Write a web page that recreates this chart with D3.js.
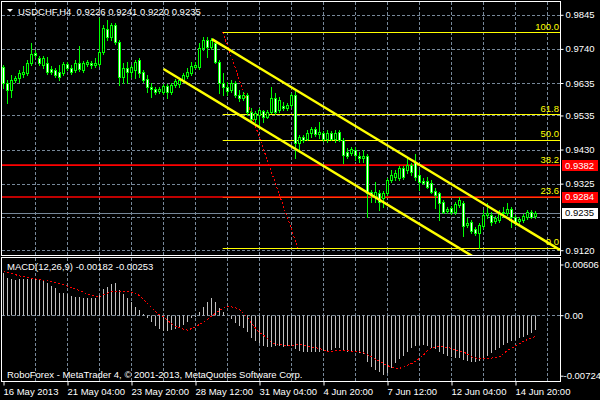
<!DOCTYPE html>
<html>
<head>
<meta charset="utf-8">
<script src="https://cdn.jsdelivr.net/npm/d3@7"></script>
<style>
  body { margin: 0; background: #000; }
  svg { display: block; }
  text { font-family: "Liberation Sans", Arial, sans-serif; font-size: 9.5px; }
</style>
</head>
<body>
<svg id="chart" width="600" height="400"></svg>
<script>
// USDCHF H4 bars, 16 May 2013 12:00 onwards
const opens = [0.9685,0.9636,0.9614,0.9645,0.9651,0.9663,0.9666,0.9697,0.9728,0.9713,
  0.9691,0.9697,0.9679,0.9676,0.9669,0.9666,0.9694,0.9682,0.9676,0.9697,
  0.9676,0.9694,0.9697,0.9691,0.9694,0.9731,0.9802,0.9777,0.9814,0.9762,
  0.9654,0.9682,0.9669,0.9676,0.9706,0.9669,0.9648,0.9623,0.9617,0.9611,
  0.9608,0.9626,0.9608,0.9629,0.9632,0.9645,0.9657,0.9666,0.9685,0.9685,
  0.9743,0.9768,0.9746,0.9759,0.9700,0.9636,0.9623,0.9614,0.9636,0.9599,
  0.9589,0.9599,0.9546,0.9525,0.9537,0.9549,0.9531,0.9546,0.9589,0.9552,
  0.9565,0.9559,0.9568,0.9599,0.9451,0.9469,0.9463,0.9482,0.9494,0.9479,
  0.9482,0.9463,0.9482,0.9463,0.9485,0.9460,0.9423,0.9420,0.9429,0.9411,
  0.9405,0.9411,0.9300,0.9284,0.9297,0.9281,0.9297,0.9337,0.9346,0.9343,
  0.9374,0.9368,0.9383,0.9392,0.9352,0.9334,0.9334,0.9328,0.9303,0.9297,
  0.9269,0.9241,0.9251,0.9238,0.9260,0.9266,0.9198,0.9207,0.9186,0.9174,
  0.9195,0.9229,0.9229,0.9211,0.9214,0.9235,0.9235,0.9247,0.9223,0.9211,
  0.9214,0.9223,0.9238,0.9226];
const highs = [0.9691,0.9645,0.9660,0.9657,0.9676,0.9688,0.9706,0.9759,0.9737,0.9719,
  0.9719,0.9716,0.9688,0.9682,0.9691,0.9700,0.9700,0.9691,0.9706,0.9750,
  0.9703,0.9706,0.9703,0.9713,0.9836,0.9814,0.9830,0.9820,0.9820,0.9768,
  0.9697,0.9700,0.9691,0.9706,0.9713,0.9676,0.9660,0.9636,0.9623,0.9623,
  0.9632,0.9632,0.9636,0.9648,0.9651,0.9666,0.9682,0.9700,0.9700,0.9759,
  0.9777,0.9777,0.9774,0.9768,0.9706,0.9666,0.9639,0.9645,0.9642,0.9614,
  0.9608,0.9605,0.9559,0.9549,0.9559,0.9552,0.9552,0.9623,0.9605,0.9592,
  0.9577,0.9574,0.9605,0.9614,0.9475,0.9475,0.9491,0.9500,0.9500,0.9515,
  0.9488,0.9491,0.9488,0.9491,0.9491,0.9466,0.9435,0.9438,0.9438,0.9423,
  0.9429,0.9417,0.9306,0.9331,0.9306,0.9303,0.9343,0.9368,0.9368,0.9380,
  0.9380,0.9405,0.9389,0.9417,0.9368,0.9343,0.9346,0.9337,0.9312,0.9300,
  0.9275,0.9254,0.9257,0.9269,0.9284,0.9272,0.9220,0.9214,0.9192,0.9204,
  0.9244,0.9266,0.9238,0.9226,0.9244,0.9254,0.9266,0.9254,0.9229,0.9223,
  0.9232,0.9244,0.9244,0.9241];
const lows = [0.9620,0.9574,0.9592,0.9639,0.9639,0.9654,0.9660,0.9691,0.9716,0.9691,
  0.9682,0.9663,0.9663,0.9654,0.9645,0.9660,0.9676,0.9663,0.9669,0.9673,
  0.9669,0.9688,0.9682,0.9685,0.9688,0.9725,0.9768,0.9768,0.9756,0.9629,
  0.9636,0.9636,0.9654,0.9651,0.9654,0.9639,0.9608,0.9592,0.9602,0.9605,
  0.9602,0.9589,0.9602,0.9623,0.9623,0.9639,0.9651,0.9660,0.9682,0.9679,
  0.9737,0.9716,0.9740,0.9697,0.9605,0.9599,0.9599,0.9608,0.9592,0.9580,
  0.9583,0.9537,0.9515,0.9515,0.9506,0.9515,0.9528,0.9543,0.9540,0.9546,
  0.9552,0.9552,0.9562,0.9405,0.9423,0.9454,0.9460,0.9469,0.9472,0.9466,
  0.9457,0.9454,0.9460,0.9454,0.9457,0.9389,0.9405,0.9414,0.9398,0.9392,
  0.9392,0.9223,0.9269,0.9269,0.9244,0.9254,0.9291,0.9331,0.9337,0.9337,
  0.9340,0.9358,0.9352,0.9337,0.9306,0.9325,0.9312,0.9297,0.9251,0.9214,
  0.9235,0.9235,0.9232,0.9232,0.9254,0.9164,0.9192,0.9174,0.9167,0.9127,
  0.9189,0.9220,0.9198,0.9204,0.9207,0.9223,0.9229,0.9192,0.9198,0.9204,
  0.9207,0.9217,0.9220,0.9220];
const closes = [0.9636,0.9614,0.9645,0.9651,0.9666,0.9669,0.9697,0.9725,0.9722,0.9697,
  0.9713,0.9669,0.9669,0.9660,0.9654,0.9694,0.9682,0.9669,0.9697,0.9679,
  0.9697,0.9700,0.9691,0.9697,0.9731,0.9805,0.9777,0.9814,0.9762,0.9654,
  0.9682,0.9669,0.9685,0.9700,0.9666,0.9645,0.9623,0.9617,0.9608,0.9617,
  0.9626,0.9608,0.9629,0.9642,0.9645,0.9660,0.9669,0.9688,0.9691,0.9743,
  0.9768,0.9746,0.9768,0.9700,0.9636,0.9623,0.9611,0.9636,0.9599,0.9589,
  0.9599,0.9546,0.9525,0.9543,0.9552,0.9531,0.9546,0.9589,0.9546,0.9583,
  0.9559,0.9568,0.9599,0.9451,0.9469,0.9460,0.9482,0.9494,0.9479,0.9485,
  0.9463,0.9482,0.9463,0.9482,0.9460,0.9414,0.9411,0.9432,0.9414,0.9405,
  0.9411,0.9297,0.9291,0.9300,0.9269,0.9297,0.9337,0.9352,0.9358,0.9374,
  0.9346,0.9383,0.9361,0.9346,0.9331,0.9328,0.9315,0.9300,0.9291,0.9266,
  0.9238,0.9247,0.9238,0.9263,0.9275,0.9195,0.9204,0.9180,0.9174,0.9198,
  0.9229,0.9235,0.9207,0.9220,0.9235,0.9238,0.9247,0.9223,0.9204,0.9217,
  0.9226,0.9238,0.9223,0.9235];

// MACD(12,26,9): main line (histogram) and signal line
const macdMain = [0.00499,0.00446,0.00427,0.00419,0.00427,0.00427,0.00431,0.00446,0.00446,0.00431,
  0.00419,0.00379,0.00350,0.00327,0.00271,0.00260,0.00248,0.00231,0.00219,0.00212,
  0.00207,0.00200,0.00200,0.00200,0.00239,0.00307,0.00331,0.00371,0.00379,0.00299,
  0.00248,0.00207,0.00159,0.00099,0.00060,0.00008,-0.00032,-0.00080,-0.00128,-0.00167,
  -0.00191,-0.00191,-0.00179,-0.00167,-0.00152,-0.00120,-0.00080,-0.00039,-0.00020,0.00032,
  0.00099,0.00159,0.00200,0.00159,0.00080,0.00032,-0.00008,-0.00048,-0.00099,-0.00128,
  -0.00152,-0.00207,-0.00271,-0.00311,-0.00338,-0.00367,-0.00379,-0.00379,-0.00367,-0.00367,
  -0.00379,-0.00367,-0.00367,-0.00401,-0.00431,-0.00439,-0.00446,-0.00446,-0.00439,-0.00439,
  -0.00431,-0.00431,-0.00419,-0.00398,-0.00391,-0.00419,-0.00439,-0.00439,-0.00446,-0.00458,
  -0.00470,-0.00559,-0.00618,-0.00658,-0.00685,-0.00718,-0.00697,-0.00637,-0.00578,-0.00526,
  -0.00487,-0.00439,-0.00398,-0.00367,-0.00359,-0.00359,-0.00367,-0.00391,-0.00407,-0.00439,
  -0.00470,-0.00487,-0.00499,-0.00511,-0.00511,-0.00538,-0.00550,-0.00566,-0.00566,-0.00550,
  -0.00518,-0.00487,-0.00458,-0.00419,-0.00391,-0.00359,-0.00327,-0.00311,-0.00299,-0.00279,
  -0.00260,-0.00239,-0.00219,-0.00182];
const macdSignal = [0.00520,0.00508,0.00499,0.00484,0.00470,0.00460,0.00451,0.00443,0.00433,0.00425,
  0.00419,0.00410,0.00401,0.00389,0.00377,0.00365,0.00347,0.00329,0.00311,0.00295,
  0.00275,0.00254,0.00236,0.00224,0.00219,0.00242,0.00263,0.00279,0.00283,0.00287,
  0.00287,0.00281,0.00271,0.00257,0.00236,0.00185,0.00138,0.00090,0.00042,0.00006,
  -0.00020,-0.00060,-0.00102,-0.00132,-0.00153,-0.00167,-0.00179,-0.00161,-0.00138,-0.00111,
  -0.00080,-0.00048,-0.00012,0.00024,0.00060,0.00084,0.00099,0.00098,0.00087,0.00066,
  0.00020,-0.00028,-0.00099,-0.00155,-0.00209,-0.00239,-0.00275,-0.00327,-0.00341,-0.00353,
  -0.00359,-0.00359,-0.00359,-0.00356,-0.00350,-0.00359,-0.00367,-0.00379,-0.00389,-0.00398,
  -0.00413,-0.00431,-0.00431,-0.00427,-0.00427,-0.00427,-0.00427,-0.00431,-0.00434,-0.00439,
  -0.00451,-0.00472,-0.00499,-0.00526,-0.00550,-0.00580,-0.00604,-0.00622,-0.00637,-0.00634,
  -0.00626,-0.00598,-0.00580,-0.00550,-0.00514,-0.00478,-0.00425,-0.00395,-0.00379,-0.00377,
  -0.00379,-0.00386,-0.00398,-0.00413,-0.00428,-0.00439,-0.00466,-0.00499,-0.00512,-0.00518,
  -0.00518,-0.00518,-0.00514,-0.00506,-0.00499,-0.00460,-0.00419,-0.00395,-0.00367,-0.00341,
  -0.00311,-0.00293,-0.00275,-0.00253];

const timeBars = [0, 16, 32, 48, 64, 80, 96, 112, 128];
const timeLabels = ['16 May 2013', '21 May 04:00', '23 May 20:00', '28 May 12:00', '31 May 04:00',
  '4 Jun 20:00', '7 Jun 12:00', '12 Jun 04:00', '14 Jun 20:00'];
const gridBars = [8, 16, 24, 32, 40, 48, 56, 64, 72, 80, 88, 96, 104, 112, 120, 128, 136];
const priceGrid = [0.9845, 0.9740, 0.9635, 0.9535, 0.9430, 0.9325, 0.9222, 0.9120];
const priceTickLabels = [0.9845, 0.9740, 0.9635, 0.9535, 0.9430, 0.9325, 0.9120];
const macdTicks = [0.00606, 0, -0.00724];

// drawn objects
const fiboLevels = [0, 23.6, 38.2, 50, 61.8, 100];
const fiboHigh = { bar: 54.8, price: 0.9792 };
const fiboLow = { bar: 73.6, price: 0.9127 };
const hLines = [0.9382, 0.9284];
const channelUpper = [[52.1, 0.9770], [139.1, 0.9121]];
const channelLower = [[40, 0.9678], [118, 0.9096]];

const svg = d3.select('#chart');
const last = closes.length - 1;

const x = d3.scaleLinear().domain([0, 133]).range([3.5, 535.5]);
const yPrice = d3.scaleLinear().domain([0.9120, 0.9845]).range([250.2, 14.8]);
const yMacd = d3.scaleLinear().domain([-0.00724, 0.00606]).range([375.7, 264.5]);
const crisp = v => Math.round(v) + 0.5;

const gridColor = '#778899';
const candleColor = '#00ff00';

svg.append('rect').attr('width', 600).attr('height', 400).attr('fill', '#000');

const defs = svg.append('defs');
defs.append('clipPath').attr('id', 'clipMain')
  .append('rect').attr('x', 2).attr('y', 2).attr('width', 558).attr('height', 253);
defs.append('clipPath').attr('id', 'clipMacd')
  .append('rect').attr('x', 2).attr('y', 258).attr('width', 558).attr('height', 123);

const main = svg.append('g').attr('clip-path', 'url(#clipMain)');
const sub = svg.append('g').attr('clip-path', 'url(#clipMacd)');

// grid
main.selectAll('line.hgrid').data(priceGrid).join('line')
  .attr('class', 'hgrid')
  .attr('x1', 2).attr('x2', 560)
  .attr('y1', d => crisp(yPrice(d))).attr('y2', d => crisp(yPrice(d)))
  .attr('stroke', gridColor).attr('stroke-dasharray', '3,2');

[main, sub].forEach((g, k) => {
  g.selectAll('line.vgrid').data(gridBars).join('line')
    .attr('class', 'vgrid')
    .attr('x1', d => x(d)).attr('x2', d => x(d))
    .attr('y1', k === 0 ? 2 : 258).attr('y2', k === 0 ? 256 : 382)
    .attr('stroke', gridColor).attr('stroke-dasharray', '3,2');
});

sub.append('line')
  .attr('x1', 2).attr('x2', 560)
  .attr('y1', crisp(yMacd(0))).attr('y2', crisp(yMacd(0)))
  .attr('stroke', gridColor).attr('stroke-dasharray', '3,2');

// bid line
main.append('line')
  .attr('x1', 2).attr('x2', 560)
  .attr('y1', crisp(yPrice(closes[last]))).attr('y2', crisp(yPrice(closes[last])))
  .attr('stroke', gridColor);

// fibonacci levels
const fiboPrice = lvl => fiboLow.price + (fiboHigh.price - fiboLow.price) * lvl / 100;
main.selectAll('line.fibo').data(fiboLevels).join('line')
  .attr('class', 'fibo')
  .attr('x1', x(fiboHigh.bar)).attr('x2', 560)
  .attr('y1', d => crisp(yPrice(fiboPrice(d)))).attr('y2', d => crisp(yPrice(fiboPrice(d))))
  .attr('stroke', '#ffff00');

main.selectAll('text.fibo').data(fiboLevels).join('text')
  .attr('class', 'fibo')
  .attr('x', 559).attr('y', d => yPrice(fiboPrice(d)) - 2.5)
  .attr('text-anchor', 'end').attr('fill', '#ffff00')
  .text(d => d.toFixed(1));

main.append('line')
  .attr('x1', x(fiboHigh.bar)).attr('y1', yPrice(fiboHigh.price))
  .attr('x2', x(fiboLow.bar)).attr('y2', yPrice(fiboLow.price))
  .attr('stroke', '#ff0000').attr('stroke-dasharray', '2,2')
  .attr('shape-rendering', 'crispEdges');

// horizontal lines
main.selectAll('line.hline').data(hLines).join('line')
  .attr('class', 'hline')
  .attr('x1', 2).attr('x2', 560)
  .attr('y1', d => yPrice(d)).attr('y2', d => yPrice(d))
  .attr('stroke', '#ff0000').attr('stroke-width', 1.6);

// candles
const bars = d3.range(closes.length);
main.selectAll('line.wick').data(bars).join('line')
  .attr('class', 'wick')
  .attr('x1', i => x(i)).attr('x2', i => x(i))
  .attr('y1', i => Math.round(yPrice(highs[i]))).attr('y2', i => Math.round(yPrice(lows[i])) + 1)
  .attr('stroke', candleColor);

main.selectAll('rect.body').data(bars).join('rect')
  .attr('class', 'body')
  .attr('x', i => x(i) - 1)
  .attr('y', i => crisp(yPrice(Math.max(opens[i], closes[i]))))
  .attr('width', 2)
  .attr('height', i => Math.max(0, crisp(yPrice(Math.min(opens[i], closes[i]))) - crisp(yPrice(Math.max(opens[i], closes[i])))))
  .attr('fill', i => closes[i] >= opens[i] ? '#000' : '#fff')
  .attr('stroke', candleColor);

// channel
const priceLine = d3.line().x(d => x(d[0])).y(d => yPrice(d[1]));
[channelUpper, channelLower].forEach(c => {
  main.append('path').attr('d', priceLine(c))
    .attr('fill', 'none').attr('stroke', '#ffff00').attr('stroke-width', 2.5);
});

// MACD
sub.selectAll('line.hist').data(bars).join('line')
  .attr('class', 'hist')
  .attr('x1', i => x(i)).attr('x2', i => x(i))
  .attr('y1', crisp(yMacd(0))).attr('y2', i => Math.round(yMacd(macdMain[i])))
  .attr('stroke', '#c0c0c0');

sub.append('path')
  .attr('d', d3.line().x((d, i) => x(i)).y(d => yMacd(d))(macdSignal))
  .attr('fill', 'none').attr('stroke', '#ff0000').attr('stroke-dasharray', '2,2')
  .attr('shape-rendering', 'crispEdges');

// frames
svg.append('rect').attr('x', 1.5).attr('y', 1.5).attr('width', 559).attr('height', 254)
  .attr('fill', 'none').attr('stroke', '#fff');
svg.append('rect').attr('x', 1.5).attr('y', 257.5).attr('width', 559).attr('height', 124)
  .attr('fill', 'none').attr('stroke', '#fff');

// axes
const styleAxis = g => {
  g.select('.domain').remove();
  g.selectAll('line').attr('stroke', '#fff');
  g.selectAll('text').attr('fill', '#fff')
    .style('font-family', '"Liberation Sans", Arial, sans-serif').style('font-size', '9.5px');
};

svg.append('g').attr('transform', 'translate(560.5,0)')
  .call(d3.axisRight(yPrice).tickValues(priceTickLabels).tickSize(3).tickFormat(d3.format('.4f')))
  .call(styleAxis)
  .call(g => g.selectAll('text').attr('x', 5));

svg.append('g').attr('transform', 'translate(560.5,0)')
  .call(d3.axisRight(yMacd).tickValues(macdTicks).tickSize(3)
    .tickFormat(d => d === 0 ? '0.00' : d.toFixed(5)))
  .call(styleAxis)
  .call(g => g.selectAll('text').attr('x', d => d < 0 ? 3 : 4));

svg.append('g').attr('transform', 'translate(0,381.5)')
  .call(d3.axisBottom(x).tickValues(timeBars).tickSize(4).tickFormat((d, i) => timeLabels[i]))
  .call(styleAxis)
  .call(g => g.selectAll('text').attr('text-anchor', 'start').attr('x', -0.5));

// price labels on right side
const tags = [
  { price: hLines[0], bg: '#ff0000', fg: '#fff' },
  { price: hLines[1], bg: '#ff0000', fg: '#fff' },
  { price: closes[last], bg: '#fff', fg: '#000' }
];
svg.selectAll('rect.tag').data(tags).join('rect')
  .attr('class', 'tag')
  .attr('x', 562).attr('y', d => Math.round(yPrice(d.price)) - 5)
  .attr('width', 36).attr('height', 11)
  .attr('fill', d => d.bg);
svg.selectAll('text.tag').data(tags).join('text')
  .attr('class', 'tag')
  .attr('x', 565).attr('y', d => yPrice(d.price) + 3.5)
  .attr('fill', d => d.fg)
  .text(d => d.price.toFixed(4));

// titles
svg.append('path').attr('d', 'M7,9 L13,9 L10,12 Z').attr('fill', '#fff');
svg.append('text').attr('x', 18).attr('y', 14.5).attr('fill', '#fff')
  .style('white-space', 'pre')
  .text('USDCHF,H4  ' + [opens[last], highs[last], lows[last], closes[last]].map(v => v.toFixed(4)).join(' '));

svg.append('text').attr('x', 7).attr('y', 270).attr('fill', '#fff')
  .text('MACD(12,26,9) ' + macdMain[last].toFixed(5) + ' ' + macdSignal[last].toFixed(5));

svg.append('text').attr('x', 7).attr('y', 378).attr('fill', '#fff')
  .text('RoboForex - MetaTrader 4, \u00a9 2001-2013, MetaQuotes Software Corp.');
</script>
</body>
</html>
